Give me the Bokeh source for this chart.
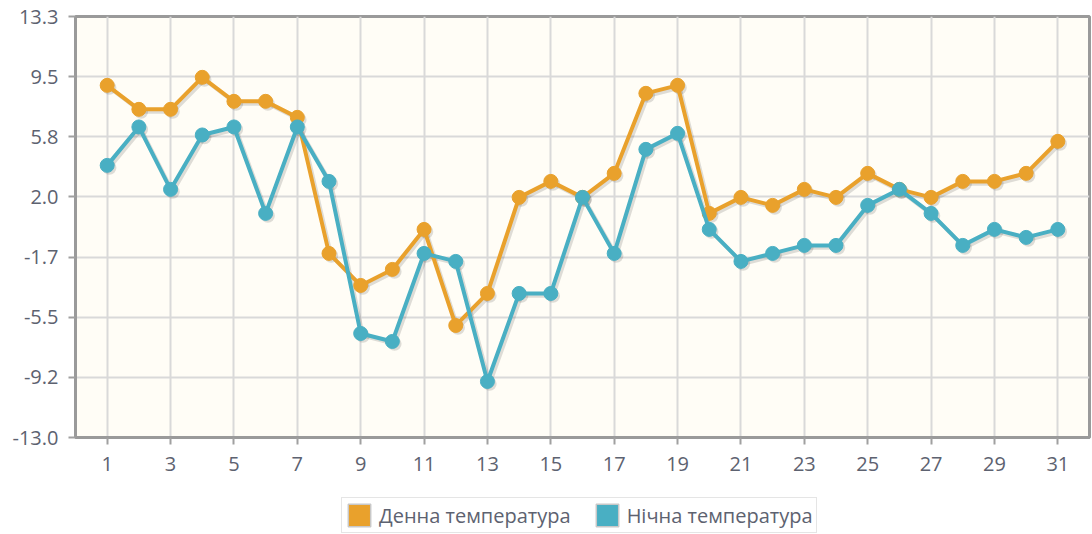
from bokeh.plotting import figure
from bokeh.layouts import column
from bokeh.models import FixedTicker, Legend, LegendItem, Range1d, NumeralTickFormatter
from bokeh.embed import file_html
from bokeh.resources import INLINE

# ---- data ----
days = list(range(1, 32))
day_temp = [9.0, 7.5, 7.5, 9.5, 8.0, 8.0, 7.0, -1.5, -3.5, -2.5, 0.0, -6.0, -4.0, 2.0,
            3.0, 2.0, 3.5, 8.5, 9.0, 1.0, 2.0, 1.5, 2.5, 2.0, 3.5, 2.5, 2.0, 3.0,
            3.0, 3.5, 5.5]
night_temp = [4.0, 6.4, 2.5, 5.9, 6.4, 1.0, 6.4, 3.0, -6.5, -7.0, -1.5, -2.0, -9.5, -4.0,
              -4.0, 2.0, -1.5, 5.0, 6.0, 0.0, -2.0, -1.5, -1.0, -1.0, 1.5, 2.5, 1.0, -1.0,
              0.0, -0.5, 0.0]
series_names = ["Денна температура", "Нічна температура"]
x_tick_days = days[::2]
y_min, y_max, y_intervals = -13.0, 13.3, 7

# ---- style ----
ORANGE = "#E9A12C"
BLUE = "#49AFC3"
TEXT = "#5d6270"
FONT = "Open Sans"

y_ticks = [y_min + i * (y_max - y_min) / y_intervals for i in range(y_intervals + 1)]

p = figure(width=1092, height=482, output_backend="svg", toolbar_location=None,
           x_range=Range1d(0, 32), y_range=Range1d(y_min, y_max),
           min_border_left=75, min_border_right=3, min_border_top=16, min_border_bottom=45,
           background_fill_color="#FFFDF6", border_fill_color="white")

p.outline_line_color = "#9a9a9a"
p.outline_line_width = 3

# shadows (offset a couple of pixels down-right)
sdx, sdy = 0.07, -0.15
for ys in (day_temp, night_temp):
    sx = [d + sdx for d in days]
    sy = [v + sdy for v in ys]
    p.line(sx, sy, line_color="black", line_alpha=0.13, line_width=4)
    p.scatter(sx, sy, size=14, fill_color="black", fill_alpha=0.13, line_color=None)

for ys, col in ((day_temp, ORANGE), (night_temp, BLUE)):
    p.line(days, ys, line_color=col, line_width=4)
    p.scatter(days, ys, size=14, fill_color=col, line_color=col)

# axes
p.xaxis.ticker = FixedTicker(ticks=x_tick_days)
p.yaxis.ticker = FixedTicker(ticks=y_ticks)
p.yaxis.formatter = NumeralTickFormatter(format="0.0")
for ax in (p.xaxis[0], p.yaxis[0]):
    ax.axis_line_color = "#9a9a9a"
    ax.axis_line_width = 3
    ax.major_tick_line_color = "#a0a0a0"
    ax.major_tick_line_width = 2
    ax.major_tick_out = 7
    ax.major_tick_in = 0
    ax.minor_tick_line_color = None
    ax.major_label_text_font = FONT
    ax.major_label_text_font_size = "20px"
    ax.major_label_text_color = TEXT
p.yaxis.major_label_standoff = 10
p.xaxis.major_label_standoff = 12

p.grid.grid_line_color = "#d9d9d9"
p.grid.grid_line_width = 2

# ---- legend strip below the chart ----
lg = figure(width=1092, height=52, output_backend="svg", toolbar_location=None,
            x_range=Range1d(0, 1), y_range=Range1d(0, 1),
            min_border_left=0, min_border_right=0, min_border_top=0, min_border_bottom=0,
            x_axis_location=None, y_axis_location=None,
            background_fill_color="white", border_fill_color="white")
lg.outline_line_color = None
lg.grid.visible = False
nan = float("nan")
r_day = lg.quad(left=[nan], right=[nan], top=[nan], bottom=[nan],
                fill_color=ORANGE, line_color="#c8c8c8", line_width=1.5)
r_night = lg.quad(left=[nan], right=[nan], top=[nan], bottom=[nan],
                  fill_color=BLUE, line_color="#c8c8c8", line_width=1.5)
legend = Legend(items=[LegendItem(label=series_names[0], renderers=[r_day]),
                       LegendItem(label=series_names[1], renderers=[r_night])],
                orientation="horizontal", location=(266, 1),
                border_line_color="#cccccc", border_line_width=1.5,
                background_fill_color="white",
                label_text_font=FONT, label_text_font_size="20px", label_text_color=TEXT,
                glyph_width=28, glyph_height=28, padding=3, spacing=22,
                label_standoff=6, margin=0)
lg.add_layout(legend, "center")

layout = column(p, lg, spacing=0)
open("out.html", "w").write(file_html(layout, INLINE))
